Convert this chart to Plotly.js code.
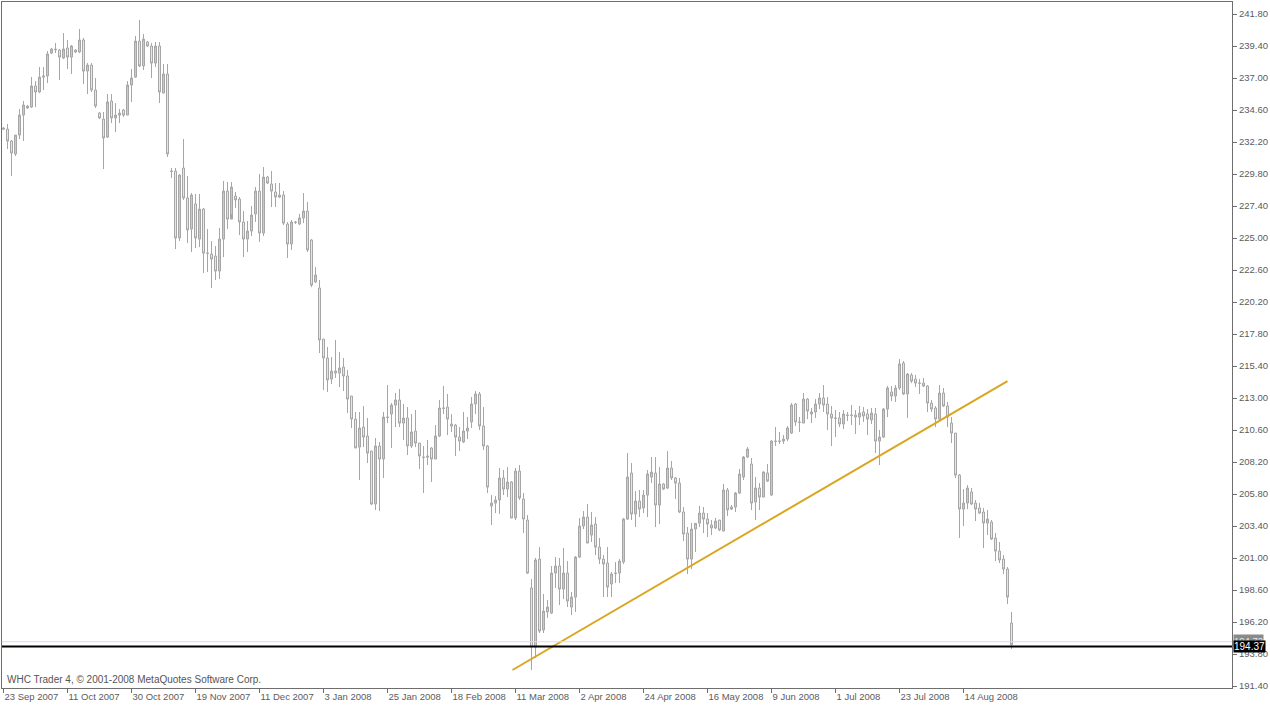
<!DOCTYPE html>
<html>
<head>
<meta charset="utf-8">
<script src="https://cdn.plot.ly/plotly-3.0.1.min.js"></script>
<style>html,body{margin:0;padding:0;background:#fff;}#chart{width:1270px;height:705px;}</style>
</head>
<body>
<div id="chart"></div>
<script>
// Daily bars, 23 Sep 2007 .. end Aug 2008 (bar index order)
const openP = [
233.25,233.17,232.27,231.30,232.72,234.22,234.75,234.82,236.40,235.95,
237.07,237.15,238.87,239.17,239.10,238.50,239.25,238.57,239.10,238.95,
239.85,237.52,237.97,236.10,234.37,233.92,232.57,235.27,234.00,234.22,
234.60,234.22,236.47,237.07,239.77,237.90,239.70,239.40,238.12,239.40,
235.87,237.30,230.02,230.02,225.00,230.25,228.00,225.67,227.55,224.92,
227.17,223.87,223.80,223.65,222.52,224.92,228.52,226.42,228.15,227.92,
226.20,224.92,225.52,226.80,228.52,225.37,229.57,229.05,228.45,228.07,
228.22,226.05,224.55,226.20,226.05,226.50,227.02,224.85,221.70,221.25,
217.42,216.00,214.42,215.02,214.87,215.32,214.65,213.15,211.42,209.32,
210.82,210.15,209.02,205.05,209.40,208.42,211.57,211.80,212.47,212.85,
211.12,211.50,209.40,210.52,209.62,208.57,208.65,209.25,208.42,210.15,
212.25,212.32,211.05,210.97,210.07,209.70,210.52,211.20,212.55,213.30,
210.90,209.40,204.90,205.12,205.35,207.00,206.17,206.70,204.00,207.52,
205.42,203.85,198.75,194.32,200.92,195.60,196.95,196.87,199.87,200.40,
198.67,199.87,197.32,198.07,201.07,203.40,204.07,202.72,203.55,201.82,
200.92,200.62,199.05,199.87,199.87,200.70,203.92,207.37,204.30,205.27,
204.75,205.72,207.07,207.37,204.97,206.55,206.25,207.75,207.00,206.62,
204.45,202.87,200.92,203.17,203.62,204.37,203.92,203.47,203.25,203.85,
203.02,206.10,204.67,204.82,205.87,207.07,208.57,208.05,205.20,206.25,
205.57,207.37,205.72,209.77,209.77,209.77,209.92,210.37,212.55,211.20,
211.12,212.92,211.80,211.95,212.55,213.00,212.55,211.80,211.50,211.50,
211.05,211.72,211.72,211.72,211.57,211.95,211.80,211.35,211.80,209.77,
210.07,212.17,213.45,213.15,213.75,215.62,213.30,214.72,214.42,214.12,
214.12,213.90,212.62,212.25,211.42,213.37,212.40,211.12,210.37,207.22,
204.67,205.12,205.95,205.12,204.75,204.45,203.62,203.70,202.50,201.52,
200.92,200.17,196.12];

const highP = [
233.32,233.55,232.35,232.72,234.67,235.27,234.97,237.07,236.77,237.82,
237.82,239.02,239.25,239.62,239.17,240.37,239.85,239.47,239.17,240.67,
240.00,238.12,238.12,237.00,234.45,234.45,235.80,235.80,235.12,234.67,
234.67,236.77,237.67,240.15,241.35,240.30,239.77,239.62,239.70,239.70,
238.05,238.05,230.25,230.25,229.80,232.42,229.65,228.37,228.30,228.30,
227.25,225.67,224.77,224.40,225.75,229.27,229.20,229.20,228.45,228.07,
227.02,226.27,227.40,228.82,229.80,230.32,229.65,230.02,229.12,229.12,
228.52,226.20,226.35,226.27,226.80,228.37,227.70,224.92,222.82,221.85,
217.42,216.82,216.07,217.35,216.45,216.00,215.10,213.15,211.95,211.95,
212.40,211.50,209.02,210.00,209.70,211.95,213.97,212.62,213.37,213.67,
212.55,212.32,211.80,212.10,209.62,209.40,209.85,209.32,210.97,212.85,
213.90,213.30,211.80,211.05,210.82,211.95,211.57,213.07,213.52,213.45,
212.32,209.47,205.72,205.65,207.75,207.60,207.82,206.77,207.75,207.97,
205.87,204.22,199.42,201.00,201.82,198.30,197.85,200.40,201.07,201.00,
201.75,200.77,198.45,201.15,204.00,204.52,205.05,204.45,204.07,202.50,
201.22,201.82,199.95,200.70,200.92,204.00,208.87,208.12,206.02,206.10,
206.10,207.60,208.57,208.57,207.82,206.62,209.02,208.27,207.07,207.00,
204.82,203.32,203.62,203.62,204.90,204.82,204.37,203.85,204.00,203.85,
206.55,206.25,204.97,205.95,207.67,208.65,209.32,208.50,207.07,206.62,
207.50,208.05,209.85,210.82,210.45,210.22,210.90,212.62,212.62,211.57,
213.37,213.00,212.25,212.92,213.37,213.97,213.07,212.40,212.10,211.95,
212.10,211.95,212.47,212.10,212.40,212.32,212.17,212.25,212.25,210.60,
212.25,213.90,213.90,213.97,215.92,215.77,214.87,214.87,214.72,214.42,
214.50,213.97,212.85,212.40,213.97,213.75,212.70,211.57,210.37,207.30,
206.17,206.47,206.25,205.35,205.12,204.75,204.60,203.85,202.87,202.20,
201.22,200.32,196.95];

const lowP = [
233.10,231.67,229.65,231.15,232.42,232.27,234.67,234.75,234.82,235.87,
236.10,236.62,238.80,238.87,236.85,238.42,237.67,237.30,238.87,238.87,
236.55,235.80,235.95,234.75,233.92,230.17,232.50,233.62,232.95,233.62,
234.07,234.22,235.20,237.00,237.82,237.60,239.32,237.00,237.82,235.12,
235.87,231.07,229.50,224.17,224.77,227.85,224.62,223.95,224.25,224.32,
222.37,222.45,221.25,221.85,221.92,223.57,225.67,226.80,227.25,225.22,
223.57,223.95,225.15,226.20,224.70,225.15,229.05,227.32,227.32,228.00,
225.97,223.50,224.10,226.05,225.97,226.12,223.95,221.32,221.62,216.37,
213.60,213.45,214.05,214.50,213.82,213.52,211.87,210.75,209.25,206.85,
209.32,208.12,204.97,204.60,204.52,207.00,211.12,209.25,210.82,210.82,
209.85,208.72,209.25,209.32,207.67,205.87,207.97,206.70,208.42,210.07,
211.80,210.22,210.45,208.65,209.02,209.62,209.92,210.75,211.80,210.60,
209.10,205.87,203.47,204.37,204.30,205.72,205.57,204.00,203.85,205.35,
202.87,199.80,192.60,193.50,195.37,195.37,196.50,196.80,198.75,197.47,
197.92,197.32,196.72,196.95,201.00,203.17,202.12,202.20,201.22,200.55,
198.07,198.07,198.07,199.12,199.12,200.55,203.85,203.85,203.32,204.07,
204.37,204.07,206.62,203.32,203.55,206.10,206.17,206.85,205.42,204.37,
202.27,199.80,200.17,201.45,203.32,202.87,202.57,202.72,203.17,203.02,
203.02,204.15,204.60,204.45,205.80,206.85,208.50,204.60,203.85,204.60,
205.57,206.70,205.65,209.40,209.55,209.55,209.77,210.30,210.90,210.45,
211.12,211.42,211.12,211.50,212.17,211.95,210.60,209.40,210.07,210.82,
210.67,211.27,210.97,210.30,210.97,211.20,210.22,211.05,208.87,207.97,
210.00,211.57,212.77,212.70,213.60,213.22,211.50,214.12,213.82,213.30,
213.82,211.95,211.95,210.82,211.35,212.32,210.82,209.62,207.00,202.50,
203.40,204.67,204.97,203.77,204.30,201.75,202.72,202.35,200.77,200.62,
199.80,197.55,194.17];

const closeP = [
233.17,232.27,231.37,232.72,234.22,234.97,234.90,236.40,235.95,237.07,
237.15,238.80,239.17,239.13,238.57,239.17,238.57,239.40,238.95,239.85,
237.52,237.97,236.10,234.90,234.00,232.50,235.20,234.00,234.22,234.37,
234.22,236.47,237.00,239.77,237.90,239.92,239.40,238.12,239.40,235.95,
237.30,231.30,229.99,225.00,229.72,228.00,225.60,228.22,225.00,227.17,
223.87,223.85,223.42,222.52,224.92,228.52,226.42,228.82,227.85,226.20,
224.92,225.52,226.72,228.52,225.37,229.57,229.12,228.52,228.07,228.22,
226.12,224.55,226.20,226.18,226.50,227.02,224.10,221.47,222.22,217.35,
216.00,214.35,215.02,214.87,215.25,214.65,212.92,211.42,209.25,210.75,
210.07,208.87,205.05,209.40,208.42,211.57,211.55,212.47,212.85,211.12,
211.50,209.40,210.45,209.62,208.65,208.55,208.57,208.42,210.15,212.25,
212.23,211.42,210.90,210.07,209.77,210.52,210.75,212.55,213.30,210.90,
209.40,206.32,205.12,205.35,207.00,206.17,206.70,204.00,207.52,205.50,
203.92,199.87,194.32,200.85,195.52,197.02,197.32,199.87,200.40,198.67,
199.87,197.77,198.07,201.07,203.40,204.07,202.12,203.47,201.82,200.92,
200.55,198.82,199.80,199.85,200.77,203.92,207.07,204.30,205.27,204.67,
205.72,207.30,207.45,204.97,206.55,206.17,207.75,207.00,206.62,204.45,
202.80,200.92,203.17,203.60,204.37,203.92,203.55,203.25,203.77,203.10,
206.10,204.60,204.82,205.87,207.30,208.57,209.17,205.12,206.25,205.57,
207.45,206.77,209.77,209.75,209.75,209.92,210.75,212.47,211.20,211.18,
212.92,212.02,211.95,212.55,213.00,212.47,211.80,211.50,211.48,211.05,
211.80,211.70,211.70,211.57,211.87,211.65,211.42,211.87,209.77,210.07,
212.17,213.75,213.15,213.75,215.55,213.30,214.80,214.27,214.12,214.10,
213.90,212.62,212.17,211.42,213.37,212.40,211.57,210.37,207.22,204.67,
205.12,206.25,205.05,204.67,204.37,203.62,203.92,202.42,201.52,200.85,
200.17,198.07,194.50];

// x-axis date labels (every 16th bar)
const xTickBars = [0,16,32,48,64,80,96,112,128,144,160,176,192,208,224,240];
const xTickText = ['23 Sep 2007','11 Oct 2007','30 Oct 2007','19 Nov 2007','11 Dec 2007',
  '3 Jan 2008','25 Jan 2008','18 Feb 2008','11 Mar 2008','2 Apr 2008','24 Apr 2008',
  '16 May 2008','9 Jun 2008','1 Jul 2008','23 Jul 2008','14 Aug 2008'];

// price-axis ticks
const yTicks = [191.40,193.80,196.20,198.60,201.00,203.40,205.80,208.20,210.60,213.00,215.40,
  217.80,220.20,222.60,225.00,227.40,229.80,232.20,234.60,237.00,239.40,241.80];

// trend line (bar index, price) and current bid/ask
const trendBars = [127.25, 251];
const trendPrices = [192.60, 214.27];
const bidPrice = 194.37;
const askPrice = 194.72;
const copyright = 'WHC Trader 4, \u00A9 2001-2008 MetaQuotes Software Corp.';

const barIdx = openP.map((_, i) => i);
const FONT = '"Liberation Sans", Arial, sans-serif';
const TXT = '#5c5c5c';
const FRAME = '#6e6e6e';

const traces = [
  {
    type: 'candlestick', x: barIdx, open: openP, high: highP, low: lowP, close: closeP,
    increasing: {line: {color: '#a6a6a6', width: 1}, fillcolor: '#a4e4a4'},
    decreasing: {line: {color: '#a6a6a6', width: 1}, fillcolor: '#f6e0e0'},
    whiskerwidth: 0, hoverinfo: 'skip', showlegend: false
  },
  {
    type: 'scatter', mode: 'lines', x: trendBars, y: trendPrices,
    line: {color: '#daa520', width: 2}, hoverinfo: 'skip', showlegend: false
  }
];

const layout = {
  width: 1270, height: 705,
  margin: {l: 2, r: 38, t: 2, b: 17, pad: 0},
  paper_bgcolor: '#ffffff', plot_bgcolor: '#ffffff',
  showlegend: false,
  boxgap: 0.2857,
  font: {family: FONT, size: 10, color: TXT},
  xaxis: {
    range: [-0.375, 307.125], rangeslider: {visible: false},
    showgrid: false, zeroline: false, showline: true, mirror: true,
    linecolor: FRAME, linewidth: 1,
    ticks: 'outside', ticklen: 4, tickcolor: FRAME, tickwidth: 1,
    tickmode: 'array', tickvals: xTickBars, ticktext: xTickText,
    ticklabelposition: 'outside right', tickangle: 0, automargin: false,
    tickfont: {family: FONT, size: 9.5, color: TXT}, fixedrange: true
  },
  yaxis: {
    side: 'right', range: [191.25, 242.70], automargin: false,
    showgrid: false, zeroline: false, showline: true, mirror: true,
    linecolor: FRAME, linewidth: 1,
    ticks: 'outside', ticklen: 4, tickcolor: FRAME, tickwidth: 1,
    tickmode: 'array', tickvals: yTicks, ticktext: yTicks.map(v => v.toFixed(2)),
    tickfont: {family: FONT, size: 9.5, color: TXT}, fixedrange: true
  },
  shapes: [
    {type: 'line', xref: 'paper', x0: 0, x1: 1, yref: 'y', y0: askPrice, y1: askPrice,
     line: {color: '#dcdcf4', width: 1}, layer: 'above'},
    {type: 'line', xref: 'paper', x0: 0, x1: 1, yref: 'y', y0: bidPrice, y1: bidPrice,
     line: {color: '#000000', width: 2}, layer: 'above'}
  ],
  annotations: [
    {xref: 'paper', x: 0, xanchor: 'left', xshift: 3, yref: 'paper', y: 0, yanchor: 'bottom', yshift: 1,
     text: copyright, showarrow: false, font: {family: FONT, size: 10, color: '#555555'}},
    {xref: 'paper', x: 1, xanchor: 'left', xshift: 1, yref: 'y', y: askPrice, yanchor: 'middle', yshift: 1,
     text: askPrice.toFixed(2), showarrow: false, bgcolor: '#8a8a8a', borderpad: 0,
     font: {family: FONT, size: 9.5, color: '#e8e8e8'}},
    {xref: 'paper', x: 1, xanchor: 'left', xshift: 1, yref: 'y', y: bidPrice, yanchor: 'middle',
     text: bidPrice.toFixed(2), showarrow: false, bgcolor: '#000000', borderpad: 0,
     font: {family: FONT, size: 10, color: '#ffffff'}}
  ]
};

Plotly.newPlot('chart', traces, layout, {staticPlot: true, displayModeBar: false});
</script>
</body>
</html>
